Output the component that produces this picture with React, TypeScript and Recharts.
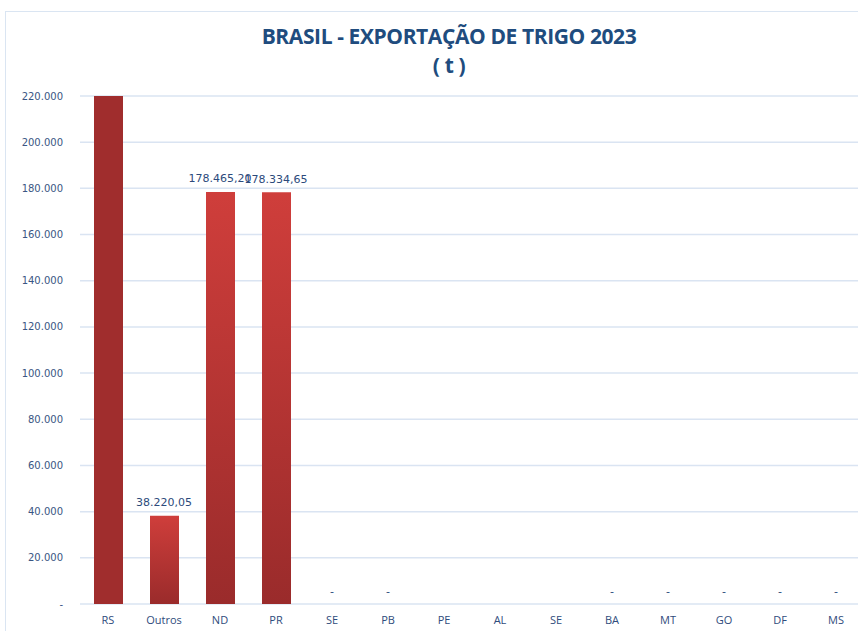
import React from 'react';
import { ComposedChart, Bar, Line, XAxis, YAxis, CartesianGrid, Cell, LabelList } from 'recharts';

const states = ['RS', 'Outros', 'ND', 'PR', 'SE', 'PB', 'PE', 'AL', 'SE ', 'BA', 'MT', 'GO', 'DF', 'MS'];
// RS passes the top of the axis in the original and is cut off there
const exports2023 = [2210000, 38220.05, 178465.2, 178334.65, 0, 0, null, null, null, 0, 0, 0, 0, 0];
const yTicks = [0, 20000, 40000, 60000, 80000, 100000, 120000, 140000, 160000, 180000, 200000, 220000];

const Y_MAX = 220000;

const data = states.map((uf, i) => ({ uf, value: exports2023[i] }));

const thousands = (n: number) => String(Math.trunc(n)).replace(/\B(?=(\d{3})+(?!\d))/g, '.');

const fmtTick = (v: number) => (v === 0 ? '-' : thousands(v));

const fmtValue = (v: number) => {
    if (v === 0) return '-';
    const [int, dec] = v.toFixed(2).split('.');
    return `${thousands(Number(int))},${dec}`;
};

// labels hang off an invisible line so the zero bars still get their "-"
const ValueLabel = (props: any) => {
    const { x, y, value } = props;
    if (value == null || value > Y_MAX || y == null) return null;
    return (
        <text
            x={x}
            y={y - 13}
            textAnchor="middle"
            dominantBaseline="central"
            fontFamily="DejaVu Sans"
            fontSize={11}
            fill="#2C4A7B"
        >
            {fmtValue(value)}
        </text>
    );
};

export default function App() {
    return (
        <div style={{ position: 'absolute', left: 0, top: 0, width: 858, height: 631, overflow: 'hidden', background: '#fff' }}>
            <div
                style={{
                    position: 'absolute',
                    left: 5,
                    top: 11,
                    width: 888,
                    height: 640,
                    border: '1px solid #DAE5F2',
                    background: '#fff',
                }}
            >
                <div
                    style={{
                        position: 'absolute',
                        left: 0,
                        top: 10,
                        width: 886,
                        textAlign: 'center',
                        fontFamily: '"Open Sans", sans-serif',
                        fontWeight: 700,
                        fontSize: 21,
                        letterSpacing: -0.4,
                        lineHeight: '29px',
                        color: '#204C7E',
                    }}
                >
                    BRASIL - EXPORTAÇÃO DE TRIGO 2023
                    <br />( t )
                </div>
                <ComposedChart
                    width={886}
                    height={638}
                    data={data}
                    margin={{ top: 84, right: 28, left: 0, bottom: 16 }}
                    barSize={29}
                >
                    <defs>
                        <linearGradient id="redFill" x1="0" y1="0" x2="0" y2="1">
                            <stop offset="0%" stopColor="#CF3E3B" />
                            <stop offset="100%" stopColor="#9A2B2B" />
                        </linearGradient>
                    </defs>
                    <CartesianGrid vertical={false} stroke="#DAE4F2" strokeWidth={1.5} />
                    <XAxis
                        dataKey="uf"
                        axisLine={false}
                        tickLine={false}
                        tickSize={0}
                        tickMargin={12}
                        height={30}
                        interval={0}
                        tick={{ fill: '#2F4C7C', fontSize: 11, fontFamily: '"Open Sans", sans-serif' }}
                    />
                    <YAxis
                        type="number"
                        domain={[0, Y_MAX]}
                        allowDataOverflow
                        ticks={yTicks}
                        interval={0}
                        width={74}
                        axisLine={false}
                        tickLine={false}
                        tickSize={0}
                        tickMargin={17}
                        tickFormatter={fmtTick}
                        tick={{ fill: '#3A5683', fontSize: 10, fontFamily: 'DejaVu Sans' }}
                    />
                    <Bar dataKey="value" isAnimationActive={false} fill="url(#redFill)">
                        {data.map((d, i) => (
                            <Cell key={`c-${i}`} fill={d.value != null && d.value > Y_MAX ? '#A02D2D' : 'url(#redFill)'} />
                        ))}
                    </Bar>
                    <Line
                        dataKey="value"
                        stroke="none"
                        dot={false}
                        activeDot={false}
                        isAnimationActive={false}
                    >
                        <LabelList dataKey="value" content={ValueLabel} />
                    </Line>
                </ComposedChart>
            </div>
        </div>
    );
}
